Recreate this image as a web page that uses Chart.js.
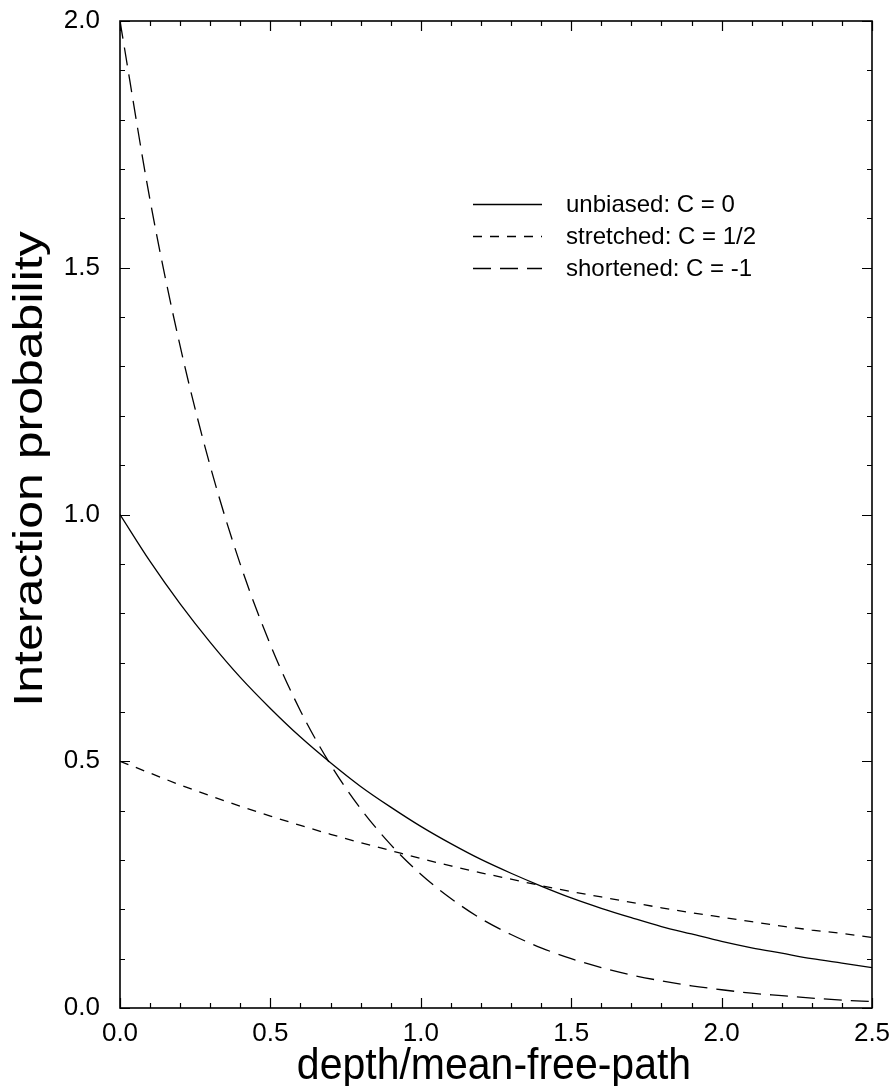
<!DOCTYPE html>
<html lang="en">
<head>
    <meta charset="UTF-8">
    <title>Interaction probability</title>
    <script src="https://cdn.jsdelivr.net/npm/chart.js"></script>
    <style>
        body { margin: 0; background: #fff; }
        #wrap { width: 895px; height: 1086px; }
    </style>
</head>
<body>
    <div id="wrap"><canvas id="probChart" width="895" height="1086"></canvas></div>

    <script>
    // depth in mean free paths
    const depth = [0.0, 0.1, 0.2, 0.3, 0.4, 0.5, 0.6, 0.7, 0.8, 0.9, 1.0, 1.1, 1.2,
                   1.3, 1.4, 1.5, 1.6, 1.7, 1.8, 1.9, 2.0, 2.1, 2.2, 2.3, 2.4, 2.5];

    const unbiased = [1.000, 0.905, 0.819, 0.741, 0.670, 0.607, 0.549, 0.497, 0.449, 0.407,
                      0.368, 0.333, 0.301, 0.273, 0.247, 0.223, 0.202, 0.183, 0.165, 0.150,
                      0.135, 0.122, 0.111, 0.100, 0.091, 0.082];
    const stretched = [0.500, 0.476, 0.452, 0.430, 0.409, 0.389, 0.370, 0.352, 0.335, 0.319,
                       0.303, 0.288, 0.274, 0.261, 0.248, 0.236, 0.225, 0.214, 0.203, 0.193,
                       0.184, 0.175, 0.166, 0.158, 0.151, 0.143];
    const shortened = [2.000, 1.637, 1.341, 1.098, 0.899, 0.736, 0.602, 0.493, 0.404, 0.331,
                       0.271, 0.222, 0.181, 0.149, 0.122, 0.100, 0.082, 0.067, 0.055, 0.045,
                       0.037, 0.030, 0.025, 0.020, 0.016, 0.013];

    const seriesNames = ['unbiased: C = 0', 'stretched: C = 1/2', 'shortened: C = -1'];
    const xTicks = [0.0, 0.5, 1.0, 1.5, 2.0, 2.5];
    const yTicks = [0.0, 0.5, 1.0, 1.5, 2.0];

    const FONT = '"Liberation Sans", Arial, Helvetica, sans-serif';

    function pts(ys) {
        return depth.map((x, i) => ({ x: x, y: ys[i] }));
    }

    // frame, inward ticks, legend and axis titles
    const decorations = {
        id: 'decorations',
        afterDraw(chart) {
            const ctx = chart.ctx;
            const a = chart.chartArea;
            const xs = chart.scales.x, ys = chart.scales.y;
            ctx.save();
            ctx.strokeStyle = '#000';
            ctx.lineWidth = 1.6;
            ctx.strokeRect(a.left, a.top, a.right - a.left, a.bottom - a.top);

            ctx.lineWidth = 1.2;
            ctx.beginPath();
            for (let i = 0; i <= 25; i++) {
                const px = Math.round(xs.getPixelForValue(i / 10)) + 0.5;
                const len = i % 5 === 0 ? 10 : 5;
                ctx.moveTo(px, a.bottom); ctx.lineTo(px, a.bottom - len);
                ctx.moveTo(px, a.top); ctx.lineTo(px, a.top + len);
            }
            for (let i = 0; i <= 20; i++) {
                const py = Math.round(ys.getPixelForValue(i / 10)) + 0.5;
                const len = i % 5 === 0 ? 10 : 5;
                ctx.moveTo(a.left, py); ctx.lineTo(a.left + len, py);
                ctx.moveTo(a.right, py); ctx.lineTo(a.right - len, py);
            }
            ctx.stroke();

            // legend
            const rows = [204, 236, 268];
            ctx.font = '24px ' + FONT;
            ctx.fillStyle = '#000';
            ctx.textBaseline = 'middle';
            chart.data.datasets.forEach((ds, i) => {
                ctx.beginPath();
                ctx.lineWidth = ds.borderWidth;
                ctx.setLineDash(ds.borderDash || []);
                ctx.moveTo(473, rows[i] + 0.5);
                ctx.lineTo(542, rows[i] + 0.5);
                ctx.stroke();
                ctx.setLineDash([]);
                ctx.fillText(ds.label, 566, rows[i] + 1);
            });

            // axis titles
            ctx.textAlign = 'center';
            ctx.textBaseline = 'alphabetic';
            ctx.save();
            ctx.translate((a.left + a.right) / 2 - 2, 1079);
            ctx.scale(1, 1.1);
            ctx.font = '41px ' + FONT;
            ctx.fillText('depth/mean-free-path', 0, 0);
            ctx.restore();

            ctx.save();
            ctx.translate(42, 469);
            ctx.rotate(-Math.PI / 2);
            ctx.scale(1.25, 1);
            ctx.font = '40px ' + FONT;
            ctx.fillText('Interaction probability', 0, 0);
            ctx.restore();
            ctx.restore();
        }
    };

    const ctx = document.getElementById('probChart').getContext('2d');
    new Chart(ctx, {
        type: 'line',
        data: {
            datasets: [
                { label: seriesNames[0], data: pts(unbiased), borderWidth: 1.3, borderDash: [] },
                { label: seriesNames[1], data: pts(stretched), borderWidth: 1.3, borderDash: [9, 8] },
                { label: seriesNames[2], data: pts(shortened), borderWidth: 1.3, borderDash: [18, 9] }
            ].map(d => Object.assign(d, {
                borderColor: '#000',
                backgroundColor: '#000',
                pointRadius: 0,
                fill: false,
                cubicInterpolationMode: 'monotone'
            }))
        },
        options: {
            responsive: false,
            animation: false,
            layout: { padding: { top: 21, right: 23, left: 0, bottom: 0 } },
            plugins: { legend: { display: false }, tooltip: { enabled: false } },
            scales: {
                x: {
                    type: 'linear',
                    min: 0, max: 2.5,
                    afterBuildTicks: s => { s.ticks = xTicks.map(v => ({ value: v })); },
                    afterFit: s => { s.height = 78; s.paddingLeft = 0; s.paddingRight = 0; },
                    grid: { display: false, drawTicks: false },
                    border: { display: false },
                    ticks: {
                        padding: 10, color: '#000', maxRotation: 0, autoSkip: false,
                        font: { family: FONT, size: 26 },
                        callback: v => v.toFixed(1)
                    }
                },
                y: {
                    min: 0, max: 2.0,
                    afterBuildTicks: s => { s.ticks = yTicks.map(v => ({ value: v })); },
                    afterFit: s => { s.width = 120; s.paddingTop = 0; s.paddingBottom = 0; },
                    grid: { display: false, drawTicks: false },
                    border: { display: false },
                    ticks: {
                        padding: 20, color: '#000', autoSkip: false,
                        font: { family: FONT, size: 26 },
                        callback: v => v.toFixed(1)
                    }
                }
            }
        },
        plugins: [decorations]
    });
    </script>
</body>
</html>
